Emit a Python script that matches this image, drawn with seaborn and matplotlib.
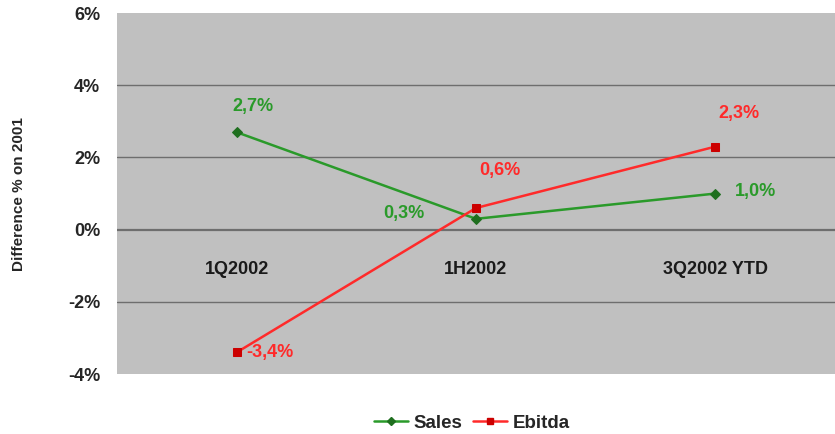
import matplotlib
matplotlib.use("Agg")
import matplotlib.pyplot as plt
import seaborn as sns
import pandas as pd
from matplotlib.lines import Line2D

periods = ["1Q2002", "1H2002", "3Q2002 YTD"]
sales = [2.7, 0.3, 1.0]
ebitda = [-3.4, 0.6, 2.3]
y_ticks = [-4, -2, 0, 2, 4, 6]

sales_color = "#2a9a2a"
sales_marker = "#1f6f1f"
ebitda_color = "#ff2a2a"
ebitda_marker = "#cc0000"

sns.set_theme(style="white")
plt.rcParams["font.family"] = ["Liberation Sans", "DejaVu Sans"]
plt.rcParams["font.weight"] = "bold"

df = pd.DataFrame({
    "pos": list(range(len(periods))) * 2,
    "value": sales + ebitda,
    "series": ["Sales"] * len(periods) + ["Ebitda"] * len(periods),
})

fig = plt.figure(figsize=(8.35, 4.34), dpi=100)
ax = fig.add_axes([0.140, 0.138, 0.860, 0.832])
ax.set_facecolor("#c0c0c0")

for yv in y_ticks[1:-1]:
    ax.axhline(yv, color="#6e6e6e", lw=1.6 if yv == 0 else 1.0, zorder=1)

sns.lineplot(data=df[df.series == "Sales"], x="pos", y="value", ax=ax,
             color=sales_color, lw=1.8, marker="D", markersize=5,
             markerfacecolor=sales_marker, markeredgecolor=sales_marker,
             legend=False, zorder=3)
sns.lineplot(data=df[df.series == "Ebitda"], x="pos", y="value", ax=ax,
             color=ebitda_color, lw=1.8, marker="s", markersize=6,
             markerfacecolor=ebitda_marker, markeredgecolor=ebitda_marker,
             legend=False, zorder=4)

ax.set_xlim(-0.5, 2.5)
ax.set_ylim(-4, 6)
ax.set_yticks(y_ticks)
ax.set_yticklabels([f"{t}%" for t in y_ticks], fontsize=13, fontweight="bold")
ax.set_xticks([])
ax.set_xlabel("")
ax.set_ylabel("Difference % on 2001", fontsize=11, fontweight="bold", labelpad=30)
ax.tick_params(axis="y", length=0, pad=12)
for s in ax.spines.values():
    s.set_visible(False)

# category names sit just below the zero line
for i, p in enumerate(periods):
    ax.text(i, -1.1, p, ha="center", va="center", fontsize=13,
            fontweight="bold", color="#1a1a1a", zorder=5)

def pct(v):
    return f"{v:.1f}%".replace(".", ",")

sales_offsets = [(0.07, 0.7, "center"), (-0.3, 0.15, "center"), (0.08, 0.05, "left")]
ebitda_offsets = [(0.04, 0.0, "left"), (0.1, 1.05, "center"), (0.1, 0.92, "center")]
for i, v in enumerate(sales):
    dx, dy, ha = sales_offsets[i]
    ax.text(i + dx, v + dy, pct(v), ha=ha, va="center", fontsize=13,
            fontweight="bold", color=sales_color, zorder=6)
for i, v in enumerate(ebitda):
    dx, dy, ha = ebitda_offsets[i]
    ax.text(i + dx, v + dy, pct(v), ha=ha, va="center", fontsize=13,
            fontweight="bold", color=ebitda_color, zorder=6)

handles = [
    Line2D([], [], color=sales_color, lw=1.8, marker="D", markersize=4,
           markerfacecolor=sales_marker, markeredgecolor=sales_marker),
    Line2D([], [], color=ebitda_color, lw=1.8, marker="s", markersize=5,
           markerfacecolor=ebitda_marker, markeredgecolor=ebitda_marker),
]
fig.legend(handles, ["Sales", "Ebitda"], loc="center", bbox_to_anchor=(0.565, 0.025),
           ncol=2, frameon=False, handlelength=1.8,
           handletextpad=0.3, columnspacing=0.6, prop={"weight": "bold", "size": 13.5})

fig.savefig("out.png", dpi=100, facecolor="white")
